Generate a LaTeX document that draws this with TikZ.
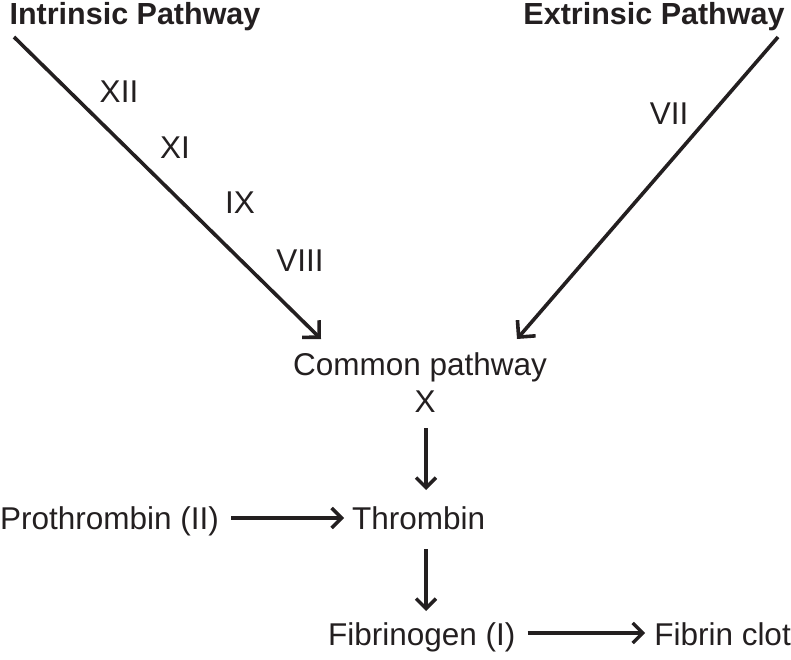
\documentclass[tikz,border=0pt]{standalone}
\usepackage{fontspec}
\setmainfont{Liberation Sans}
\usetikzlibrary{arrows.meta}
\definecolor{ink}{HTML}{231F20}
\begin{document}
\begin{tikzpicture}[x=1pt,y=-1pt,
  txt/.style={anchor=base,inner sep=0pt,text=ink,font=\fontsize{31.5}{37}\selectfont},
  ttl/.style={anchor=base,inner sep=0pt,text=ink,font=\fontsize{30.5}{37}\selectfont\bfseries},
  arr/.style={draw=ink,line width=3.4pt,-{Straight Barb[length=10pt,width=20pt,line width=3.4pt]}},
  diag/.style={draw=ink,line width=3.6pt,-{Straight Barb[length=12pt,width=24pt,line width=3.6pt]}}]
\useasboundingbox (0,0) rectangle (791,660);
\node[ttl] (intr) at (135,25) {Intrinsic Pathway};
\node[ttl] (extr) at (654,25) {Extrinsic Pathway};
\coordinate (is) at (14,37);
\coordinate (es) at (778,37);
\node[txt] (xii) at (119,103) {XII};
\node[txt] (xi) at (175,159) {XI};
\node[txt] (ix) at (240,213) {IX};
\node[txt] (viii) at (300,271) {VIII};
\node[txt] (vii) at (669,125) {VII};
\node[txt] (common) at (420,375) {Common pathway};
\node[txt] (x) at (425,412) {X};
\coordinate (it) at (321,339);
\coordinate (et) at (517,339);
\node[txt,anchor=base west] (pro) at (0,529) {Prothrombin (II)};
\node[txt,anchor=base west] (thr) at (352,529) {Thrombin};
\node[txt,anchor=base west] (fbg) at (328,645) {Fibrinogen (I)};
\node[txt,anchor=base east] (clot) at (791,645) {Fibrin clot};
\draw[diag] (is) -- (it);
\draw[diag] (es) -- (et);
\draw[arr] (426,428) -- (426,490);
\draw[arr] (426,549) -- (426,611);
\draw[arr] ([xshift=12pt,yshift=11pt]pro.base east) -- ([xshift=-8pt,yshift=11pt]thr.base west);
\draw[arr] ([xshift=12pt,yshift=12pt]fbg.base east) -- ([xshift=-9pt,yshift=12pt]clot.base west);
\end{tikzpicture}
\end{document}
